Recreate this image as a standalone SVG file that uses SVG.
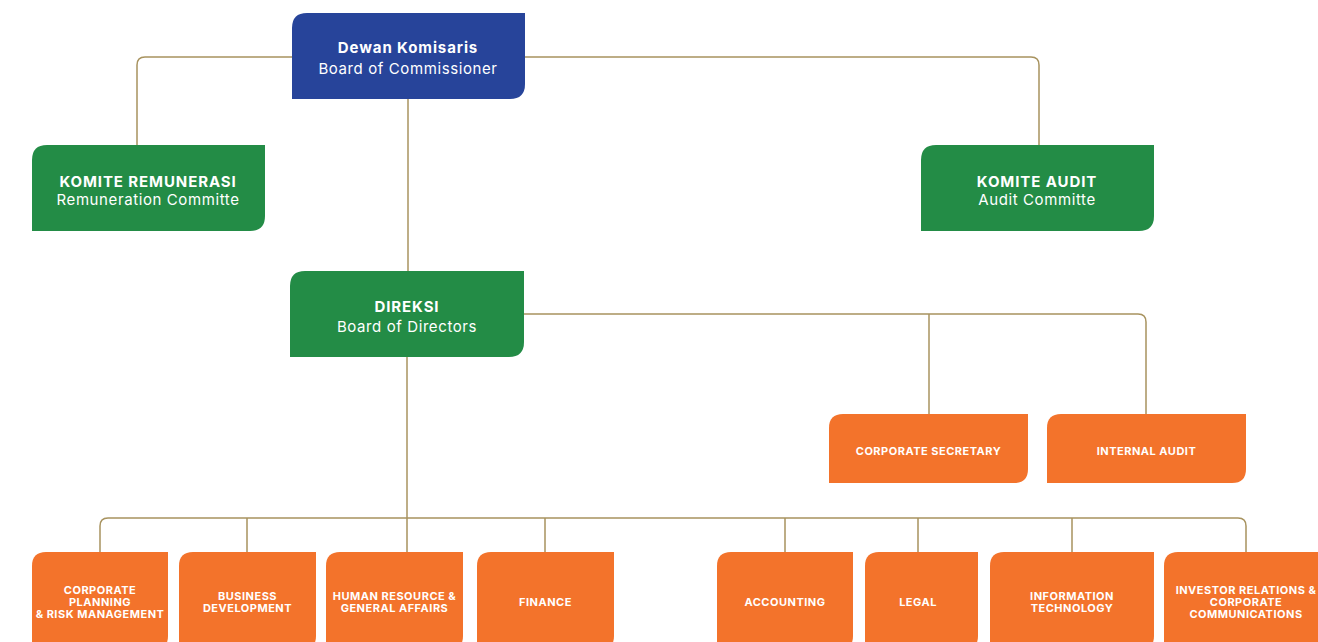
<svg xmlns="http://www.w3.org/2000/svg" width="1318" height="642" viewBox="0 0 1318 642">
<style>
.c{fill:none;stroke:#A8935F;stroke-width:1.5}
.blue{fill:#27449A}
.green{fill:#238C46}
.orange{fill:#F3732B}
.t1{font-family:Inter,"Noto Sans","Liberation Sans",sans-serif;font-weight:700;font-size:15px;letter-spacing:0.9px;fill:#fff;text-anchor:middle}
.t2{font-family:Inter,"Noto Sans","Liberation Sans",sans-serif;font-weight:400;font-size:15px;letter-spacing:0.6px;fill:#fff;text-anchor:middle}
.t3{font-family:Inter,"Noto Sans","Liberation Sans",sans-serif;font-weight:700;font-size:11px;letter-spacing:0.5px;fill:#fff;text-anchor:middle}
</style>
<rect width="1318" height="642" fill="#fff"/>
<g id="connectors">
<path class="c" d="M137,145 V65 Q137,57 145,57 H1031 Q1039,57 1039,65 V145"/>
<path class="c" d="M408,99 V271"/>
<path class="c" d="M524,314 H1138 Q1146,314 1146,322 V414"/>
<path class="c" d="M929,314 V414"/>
<path class="c" d="M407,357 V518"/>
<path class="c" d="M100,552 V526 Q100,518 108,518 H1238 Q1246,518 1246,526 V552"/>
<path class="c" d="M247,518 V552 M407,518 V552 M545,518 V552 M785,518 V552 M918,518 V552 M1072,518 V552"/>
</g>
<g id="dewan-komisaris">
<path class="blue" d="M307,13 H525 V84 Q525,99 510,99 H292 V28 Q292,13 307,13 Z"/>
<text class="t1" x="408" y="53">Dewan Komisaris</text>
<text class="t2" x="408" y="74">Board of Commissioner</text>
</g>
<g id="komite-remunerasi">
<path class="green" d="M47,145 H265 V216 Q265,231 250,231 H32 V160 Q32,145 47,145 Z"/>
<text class="t1" x="148" y="187">KOMITE REMUNERASI</text>
<text class="t2" x="148" y="205">Remuneration Committe</text>
</g>
<g id="komite-audit">
<path class="green" d="M936,145 H1154 V216 Q1154,231 1139,231 H921 V160 Q921,145 936,145 Z"/>
<text class="t1" x="1037" y="187">KOMITE AUDIT</text>
<text class="t2" x="1037" y="205">Audit Committe</text>
</g>
<g id="direksi">
<path class="green" d="M305,271 H524 V342 Q524,357 509,357 H290 V286 Q290,271 305,271 Z"/>
<text class="t1" x="407" y="312">DIREKSI</text>
<text class="t2" x="407" y="332">Board of Directors</text>
</g>
<g id="corporate-secretary">
<path class="orange" d="M843,414 H1028 V469 Q1028,483 1014,483 H829 V428 Q829,414 843,414 Z"/>
<text class="t3" x="928.5" y="455">CORPORATE SECRETARY</text>
</g>
<g id="internal-audit">
<path class="orange" d="M1061,414 H1246 V469 Q1246,483 1232,483 H1047 V428 Q1047,414 1061,414 Z"/>
<text class="t3" x="1146.5" y="455">INTERNAL AUDIT</text>
</g>
<g id="corporate-planning">
<path class="orange" d="M46,552 H168 V636 Q168,650 154,650 H32 V566 Q32,552 46,552 Z"/>
<text class="t3" x="100" y="594">CORPORATE</text>
<text class="t3" x="100" y="606">PLANNING</text>
<text class="t3" x="100" y="618">&amp; RISK MANAGEMENT</text>
</g>
<g id="business-development">
<path class="orange" d="M193,552 H316 V636 Q316,650 302,650 H179 V566 Q179,552 193,552 Z"/>
<text class="t3" x="247.5" y="600">BUSINESS</text>
<text class="t3" x="247.5" y="612">DEVELOPMENT</text>
</g>
<g id="human-resource">
<path class="orange" d="M340,552 H463 V636 Q463,650 449,650 H326 V566 Q326,552 340,552 Z"/>
<text class="t3" x="394.5" y="600">HUMAN RESOURCE &amp;</text>
<text class="t3" x="394.5" y="612">GENERAL AFFAIRS</text>
</g>
<g id="finance">
<path class="orange" d="M491,552 H614 V636 Q614,650 600,650 H477 V566 Q477,552 491,552 Z"/>
<text class="t3" x="545.5" y="606">FINANCE</text>
</g>
<g id="accounting">
<path class="orange" d="M731,552 H853 V636 Q853,650 839,650 H717 V566 Q717,552 731,552 Z"/>
<text class="t3" x="785" y="606">ACCOUNTING</text>
</g>
<g id="legal">
<path class="orange" d="M879,552 H978 V636 Q978,650 964,650 H865 V566 Q865,552 879,552 Z"/>
<text class="t3" x="918" y="606">LEGAL</text>
</g>
<g id="information-technology">
<path class="orange" d="M1004,552 H1154 V636 Q1154,650 1140,650 H990 V566 Q990,552 1004,552 Z"/>
<text class="t3" x="1072" y="600">INFORMATION</text>
<text class="t3" x="1072" y="612">TECHNOLOGY</text>
</g>
<g id="investor-relations">
<path class="orange" d="M1178,552 H1330 V636 Q1330,650 1316,650 H1164 V566 Q1164,552 1178,552 Z"/>
<text class="t3" x="1246" y="594">INVESTOR RELATIONS &amp;</text>
<text class="t3" x="1246" y="606">CORPORATE</text>
<text class="t3" x="1246" y="618">COMMUNICATIONS</text>
</g>
</svg>
